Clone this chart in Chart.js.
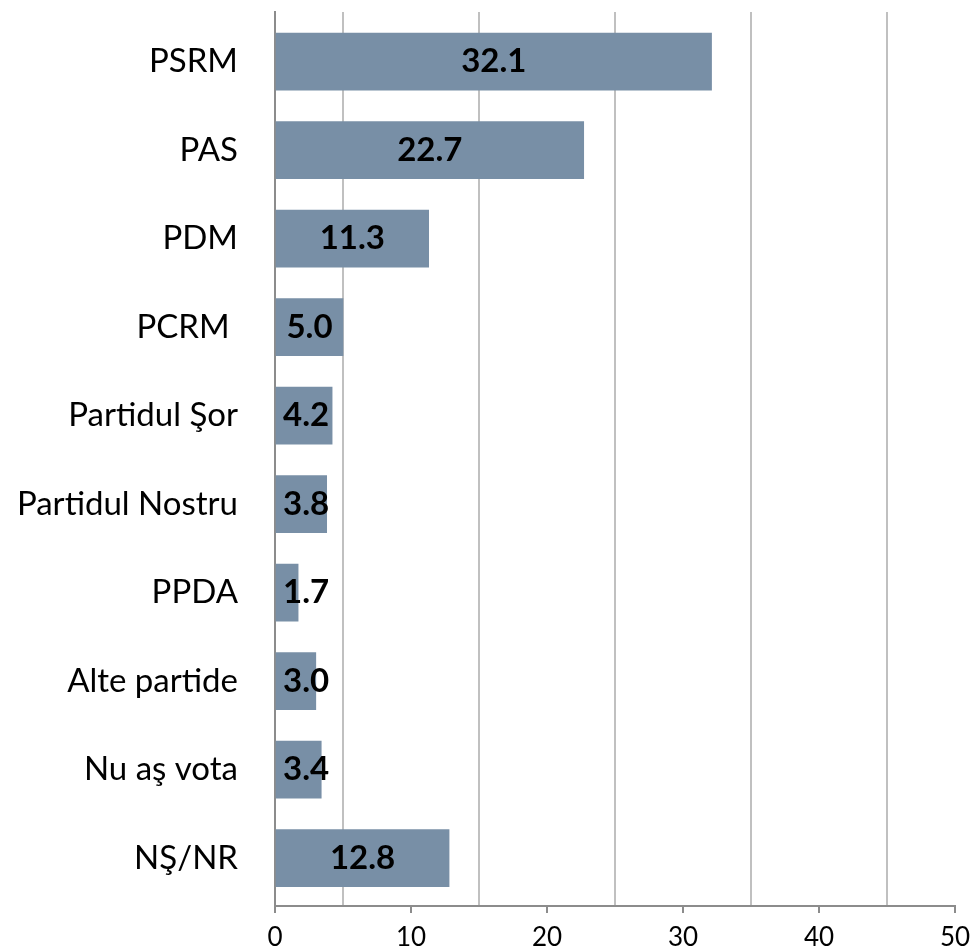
<!DOCTYPE html>
<html>
<head>
<meta charset="utf-8">
<script src="https://cdn.jsdelivr.net/npm/chart.js@4.4.0/dist/chart.umd.min.js"></script>
<style>
  html, body { margin: 0; padding: 0; background: #ffffff; }
  #wrap { width: 970px; height: 947px; }
</style>
</head>
<body>
<div id="wrap"><canvas id="c" width="970" height="947"></canvas></div>
<script>
const categories = ["PSRM", "PAS", "PDM", "PCRM ", "Partidul Şor", "Partidul Nostru", "PPDA", "Alte partide", "Nu aş vota", "NŞ/NR"];
const values = [32.1, 22.7, 11.3, 5.0, 4.2, 3.8, 1.7, 3.0, 3.4, 12.8];
const xTicks = [0, 10, 20, 30, 40, 50];

const FONT = "Lato, 'Open Sans', sans-serif";

const dataLabels = {
  id: 'dataLabels',
  afterDatasetsDraw(chart) {
    const ctx = chart.ctx;
    const meta = chart.getDatasetMeta(0);
    ctx.save();
    ctx.font = "bold 33px " + FONT;
    ctx.fillStyle = '#000000';
    ctx.textBaseline = 'middle';
    ctx.textAlign = 'center';
    meta.data.forEach((bar, i) => {
      const txt = values[i].toFixed(1);
      const w = ctx.measureText(txt).width;
      const center = (bar.base + bar.x) / 2;
      const x = Math.max(center, bar.base + 7 + w / 2);
      ctx.fillText(txt, x, bar.y);
    });
    ctx.restore();
  }
};

function zeroPad(scale) {
  scale.paddingTop = 0; scale.paddingBottom = 0;
  scale.paddingLeft = 0; scale.paddingRight = 0;
}

new Chart(document.getElementById('c'), {
  type: 'bar',
  data: {
    datasets: [{
      data: values.map((v, i) => ({ x: v, y: i })),
      backgroundColor: '#788fa6',
      borderWidth: 0,
      barThickness: 57
    }]
  },
  options: {
    indexAxis: 'y',
    responsive: false,
    animation: false,
    layout: { padding: { top: 12, right: 15, left: 0, bottom: 0 } },
    plugins: { legend: { display: false }, tooltip: { enabled: false } },
    scales: {
      x: {
        type: 'linear',
        min: 0,
        max: 50,
        afterBuildTicks(scale) {
          const t = [];
          for (let v = 0; v <= 50; v += 5) t.push({ value: v });
          scale.ticks = t;
        },
        afterFit(scale) { scale.height = 41; zeroPad(scale); },
        ticks: {
          autoSkip: false,
          maxRotation: 0,
          padding: 9,
          color: '#000000',
          font: { family: FONT, size: 26 },
          callback: (v) => xTicks.includes(v) ? String(v) : ''
        },
        grid: {
          lineWidth: 2,
          tickLength: 7,
          color: (c) => (c.tick && c.tick.value % 10 !== 0) ? '#c0c0c0' : 'rgba(0,0,0,0)',
          tickColor: (c) => (c.tick && xTicks.includes(c.tick.value)) ? '#8c8c8c' : 'rgba(0,0,0,0)',
          tickWidth: 2
        },
        border: { display: true, color: '#8c8c8c', width: 2 }
      },
      y: {
        type: 'linear',
        reverse: true,
        offset: false,
        min: -0.56,
        max: 9.54,
        afterBuildTicks(scale) {
          scale.ticks = categories.map((c, i) => ({ value: i }));
        },
        afterFit(scale) { scale.width = 275; zeroPad(scale); },
        ticks: {
          autoSkip: false,
          padding: 37,
          color: '#000000',
          font: { family: FONT, size: 33 },
          callback: (v) => categories[v] !== undefined ? categories[v] : ''
        },
        grid: { offset: false, drawOnChartArea: false, drawTicks: false },
        border: { display: true, color: '#8c8c8c', width: 2 }
      }
    }
  },
  plugins: [dataLabels]
});
</script>
</body>
</html>
